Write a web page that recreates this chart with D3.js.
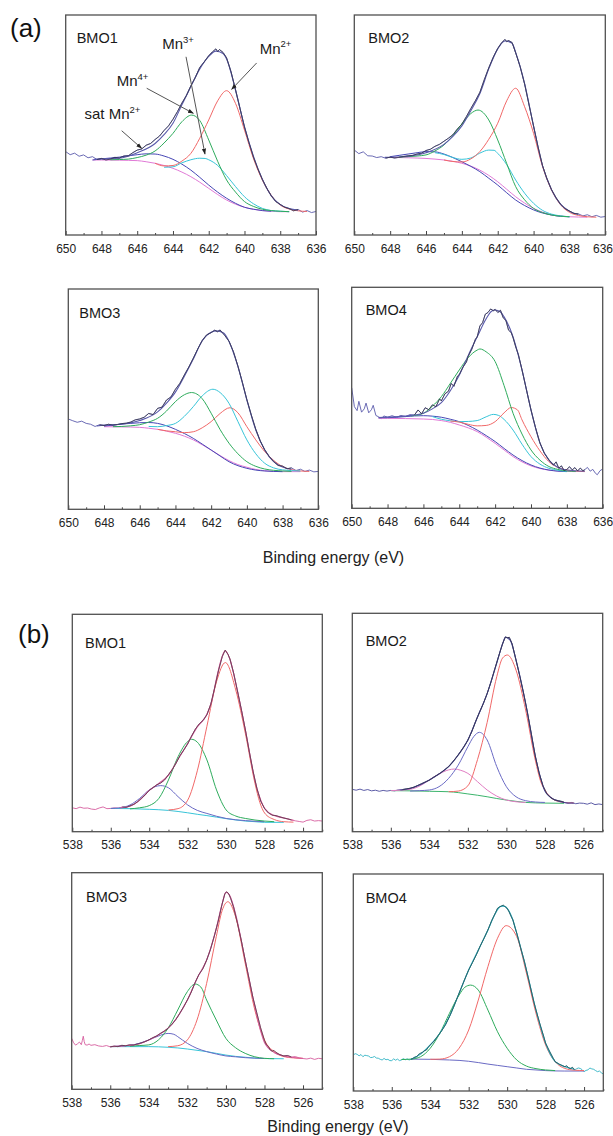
<!DOCTYPE html>
<html><head><meta charset="utf-8">
<script src="https://cdn.jsdelivr.net/npm/d3@7"></script>
<style>body{margin:0;background:#fff} svg{display:block} text{font-family:"Liberation Sans",Arial,sans-serif}</style>
</head><body><svg id="c" width="613" height="1136"></svg>
<script>
// ---------- tick labels ----------
const ticksA = [650,648,646,644,642,640,638,636];
const minorA = [649,647,645,643,641,639,637];
const ticksB = [538,536,534,532,530,528,526];
const minorB = [537,535,533,531,529,527,525];
const panelNames = ["BMO1","BMO2","BMO3","BMO4"];

// ---------- (a) Mn 2p, BMO1 ----------
const a1Raw = [[650,37.9],[649.75,36.5],[649.5,37.2],[649.25,35.8],[649,36.4],[648.75,35.1],[648.5,35.6],[648.25,34.3],[648,34.8],[647.75,34.1],[647.5,34.5],[647.25,35.3],[647,35.0],[646.75,35.9],[646.5,36.0],[646.25,37.4],[646,38.6],[645.75,39.1],[645.5,40.8],[645.25,41.6],[645,43.4],[644.75,45.0],[644.5,47.5],[644.25,49.6],[644,52.6],[643.75,56.1],[643.5,60.0],[643.25,63.4],[643,67.8],[642.75,71.6],[642.5,76.2],[642.25,78.7],[642,81.5],[641.8,83.2],[641.6,84.6],[641.5,83.4],[641.4,84.3],[641.2,83.0],[641,80.5],[640.75,74.2],[640.5,66.0],[640.25,57.5],[640,49.0],[639.75,42.0],[639.5,35.4],[639.25,30.0],[639,25.2],[638.75,21.2],[638.5,17.8],[638.25,15.2],[638,13.9],[637.75,12.6],[637.5,12.0],[637.25,11.0],[637,11.6],[636.75,10.4],[636.5,11.1],[636.25,10.2],[636,10.7]];
const a1Env = [[648.4,34.4],[648,34.6],[647,34.9],[646,37.4],[645,41.6],[644.5,45.6],[644,50.8],[643.5,59.2],[643,67.5],[642.5,75.5],[642,81.2],[641.6,83.6],[641.2,82.5],[641,80],[640.5,65.8],[640,49.2],[639.5,35.8],[639,25.3],[638.5,17.8],[638,13.8],[637.5,12.0],[637,11.3]];
const a1Mn2 = [[645,32.6],[644.5,31.4],[644,31.6],[643.5,33.6],[643,37.1],[642.5,44],[642,52.3],[641.5,61],[641,65.6],[640.5,59.8],[640,47.7],[639.5,34.8],[639,25],[638.5,18],[638,13.6],[637.5,11.8],[637,11],[636.5,10.7]];
const a1Mn4 = [[647.5,34.2],[647,34.3],[646.5,34.5],[646,35.2],[645.5,36.3],[645,38.2],[644.5,41.8],[644,46.2],[643.5,51.5],[642.95,54.5],[642.5,52],[642,43.2],[641.5,33.5],[641,25],[640.5,19.5],[640,15.2],[639.5,13.0],[639,11.7],[638,10.8],[637.5,10.6]];
const a1Mn3 = [[644.5,30.8],[644,31.0],[643.5,32.8],[643,34.2],[642.5,34.9],[642.2,34.8],[642,34.2],[641.5,31.6],[641,27],[640.5,22],[640,17.4],[639.5,14.2],[639,12.1],[638.5,11.1],[638,10.8],[637.5,10.6]];
const a1Sat = [[648.5,34.1],[648,34.6],[647.5,35.0],[647,35.4],[646.5,36.0],[646,36.5],[645.5,36.9],[645,36.8],[644.5,35.9],[644,34.4],[643.5,32.2],[643,29.5],[642.5,26.2],[642,22.7],[641.5,19.5],[641,16.7],[640.5,14.4],[640,12.6],[639.5,11.7],[639,11.1],[638.5,10.8]];
const a1Bg = [[648.5,34.1],[648,34.1],[647,34.0],[646,33.8],[645.5,33.3],[645,32.6],[644.5,31.6],[644,30.3],[643.5,28.6],[643,26.5],[642.5,24.0],[642,21.2],[641.5,18.4],[641,15.9],[640.5,14.0],[640,12.6],[639.5,11.7],[639,11.1],[638.5,10.8],[638,10.6],[637.5,10.6]];

// ---------- (a) BMO2 ----------
const a2Raw = [[650,38.6],[649.75,37.0],[649.5,37.8],[649.25,36.0],[649,35.9],[648.75,35.2],[648.5,35.6],[648.25,34.9],[648,35.4],[647.75,35.0],[647.5,35.3],[647.25,35.7],[647,36.0],[646.75,36.2],[646.5,36.8],[646.25,37.2],[646,38.4],[645.75,39.0],[645.5,40.3],[645.25,41.2],[645,42.6],[644.75,44.0],[644.5,45.6],[644.25,48.2],[644,50.4],[643.75,53.8],[643.5,57.5],[643.25,61.0],[643,64.8],[642.75,70.6],[642.5,76.0],[642.25,80.8],[642,84.8],[641.8,87.2],[641.6,88.9],[641.5,87.9],[641.4,88.4],[641.2,87.5],[641,82.8],[640.75,76.5],[640.5,68.6],[640.25,59.0],[640,49.5],[639.75,40.0],[639.5,31.5],[639.25,25.5],[639,20.6],[638.75,17.0],[638.5,14.0],[638.25,12.0],[638,10.9],[637.75,9.8],[637.5,9.6],[637.25,8.7],[637,9.2],[636.75,8.3],[636.5,8.9],[636.25,8.1],[636,8.4]];
const a2Env = [[648.3,35.3],[648,35.3],[647,35.8],[646,37.4],[645,41.2],[644.5,44.8],[644,49.6],[643.5,56.5],[643,64.2],[642.5,75.5],[642,84.6],[641.6,88.2],[641.2,87.2],[641,83],[640.5,68.8],[640,49.4],[639.5,31.4],[639,20.6],[638.5,14],[638,10.8],[637.5,9.3]];
const a2Mn2 = [[645,34.1],[644.5,33.4],[644,33.2],[643.5,34.6],[643,37.9],[642.5,43.5],[642,50.8],[641.5,61],[641,66.7],[640.5,58.3],[640,46.2],[639.5,31.1],[639,20.5],[638.5,13.8],[638,10.3],[637.5,8.9],[637,8.3],[636.5,8.1]];
const a2Mn4 = [[647.5,35.4],[647,35.6],[646.5,35.9],[646,36.4],[645.5,38.2],[645,40.9],[644.5,45.2],[644,50.5],[643.5,55.2],[643.1,56.8],[642.5,52.3],[642,43.2],[641.5,32.5],[641,22],[640.5,16],[640,12.1],[639.5,10.2],[639,9.1],[638,8.3]];
const a2Mn3 = [[645.5,37.4],[645,36.6],[644.5,35.2],[644,34.4],[643.5,35.0],[643,37.2],[642.5,38.6],[642.2,38.5],[642,37.1],[641.5,32],[641,25],[640.5,19],[640,14.4],[639.5,11.2],[639,9.5],[638.5,8.7],[638,8.3]];
const a2Sat = [[648,35.6],[647.5,36.2],[647,36.8],[646.5,37.4],[646,37.9],[645.5,37.8],[645,36.8],[644.5,35.2],[644,33.3],[643.5,31.2],[643,28.8],[642.5,25.8],[642,22.7],[641.5,19.2],[641,15.9],[640.5,13.4],[640,11.4],[639.5,10],[639,9.1],[638.5,8.5],[638,8.3]];
const a2Bg = [[648,35.3],[647,35.1],[646,34.8],[645.5,34.5],[645,34.1],[644.5,33.5],[644,32.6],[643.5,31.3],[643,29.5],[642.5,27.1],[642,24.2],[641.5,20.8],[641,17.4],[640.5,14.5],[640,12.1],[639.5,10.4],[639,9.1],[638.5,8.6],[638,8.3],[637,8.1]];

// ---------- (a) BMO3 ----------
const a3Raw = [[650,41.0],[649.75,40.2],[649.5,39.5],[649.25,40.0],[649,39.0],[648.75,38.6],[648.5,37.6],[648.25,38.4],[648,38.0],[647.75,38.6],[647.5,38.2],[647.25,38.5],[647,38.9],[646.75,39.1],[646.5,39.6],[646.25,40.6],[646,41.0],[645.75,41.8],[645.5,43.5],[645.25,43.0],[645,45.8],[644.75,46.4],[644.5,49.6],[644.25,51.0],[644,54.5],[643.75,57.2],[643.5,61.0],[643.25,64.6],[643,68.6],[642.75,72.8],[642.5,76.6],[642.25,79.2],[642,80.2],[641.8,81.3],[641.65,80.6],[641.5,81.4],[641.25,79.0],[641,76.3],[640.75,71.5],[640.5,65.0],[640.25,57.6],[640,49.8],[639.75,42.8],[639.5,36.3],[639.25,31.0],[639,27.0],[638.75,24.0],[638.5,21.7],[638.25,19.9],[638,19.6],[637.75,18.4],[637.5,18.8],[637.25,17.6],[637,18.2],[636.75,17.2],[636.5,17.8],[636.25,17.0],[636,17.2]];
const a3Env = [[648.4,37.8],[648,38.2],[647,38.6],[646,40.3],[645,44.2],[644.5,48.2],[644,53.2],[643.5,60.4],[643,68.2],[642.5,76.5],[642,80.4],[641.7,81],[641.3,80],[641,76.2],[640.5,64.8],[640,49.6],[639.5,36],[639,26.9],[638.5,21.6],[638,19.2],[637.5,18.2]];
const a3Mn4 = [[647.5,37.5],[647,37.6],[646.5,37.9],[646,38.4],[645.5,39.6],[645,41.3],[644.5,44.6],[644,48.9],[643.5,52.0],[643.1,53.0],[642.5,50.2],[642,43.6],[641.5,36.2],[641,30],[640.5,25.2],[640,21.6],[639.5,19.5],[639,18.3],[638,17.4],[637.5,17.2]];
const a3Mn3 = [[645.5,37.6],[645,37.5],[644.5,38.0],[644,39.0],[643.5,42.2],[643,46.6],[642.5,51.5],[641.9,54.5],[641.5,53],[641,48.1],[640.5,39.8],[640,31.5],[639.5,25.2],[639,20.9],[638.5,18.8],[638,17.9],[637,17.4]];
const a3Mn2 = [[645,36.3],[644.5,35.6],[644,35.2],[643.5,34.8],[643,35.2],[642.5,37.0],[642,39.8],[641.5,43.5],[640.95,46.1],[640.5,43.8],[640,37.5],[639.5,31.5],[639,26.2],[638.5,22.2],[638,19.4],[637.5,18.0],[637,17.4],[636.5,17.2]];
const a3Sat = [[648,37.8],[647.5,38.2],[647,38.7],[646.5,39.0],[646,39.3],[645.5,39.4],[645,39.0],[644.5,37.9],[644,36.3],[643.5,34.4],[643,32.2],[642.5,29.6],[642,26.9],[641.5,24.2],[641,21.6],[640.5,19.8],[640,18.6],[639.5,17.8],[639,17.4],[638,17.1]];
const a3Bg = [[648,37.5],[647,37.4],[646,37.2],[645.5,36.8],[645,36.3],[644.5,35.5],[644,34.5],[643.5,33.2],[643,31.5],[642.5,29.3],[642,26.9],[641.5,24.4],[641,22.1],[640.5,20.3],[640,19.1],[639.5,18.1],[639,17.5],[638.5,17.2],[638,17.1],[637,17.1]];

// ---------- (a) BMO4 ----------
const a4Raw = [[650,54.5],[649.85,46.0],[649.7,44.2],[649.6,48.4],[649.45,43.5],[649.3,45.0],[649.2,47.6],[649.05,43.2],[648.9,44.6],[648.8,46.6],[648.65,42.0],[648.5,41.4],[648.35,40.6],[648.2,41.8],[648,41.2],[647.75,41.9],[647.5,41.2],[647.25,42.0],[647,41.5],[646.75,42.4],[646.5,42.2],[646.3,44.5],[646.1,42.8],[645.9,45.5],[645.7,44.6],[645.5,46.8],[645.3,46.0],[645.1,49.5],[645,48.6],[644.8,51.8],[644.6,53.0],[644.45,56.5],[644.3,55.2],[644.1,59.8],[644,60.5],[643.8,63.8],[643.6,66.2],[643.5,68.8],[643.3,72.0],[643.1,76.5],[643,77.5],[642.85,82.5],[642.7,84.0],[642.55,87.8],[642.4,88.6],[642.25,90.2],[642.1,89.4],[642,90.0],[641.85,88.6],[641.7,89.6],[641.55,86.2],[641.4,85.0],[641.25,80.6],[641.1,79.5],[641,77.2],[640.85,73.0],[640.7,69.5],[640.5,62.6],[640.25,53.5],[640,44.5],[639.75,36.6],[639.5,29.6],[639.25,24.8],[639,21.9],[638.75,19.5],[638.6,21.0],[638.45,18.2],[638.3,19.2],[638.15,17.0],[638,17.6],[637.85,18.8],[637.7,17.4],[637.55,18.4],[637.4,16.9],[637.25,18.2],[637.1,17.0],[637,17.5],[636.85,18.5],[636.7,16.8],[636.55,17.6],[636.4,15.8],[636.3,15.2],[636.15,17.0],[636,17.8]];
const a4Env = [[648.5,41.0],[648,41.3],[647,41.7],[646.5,42.2],[646,43.0],[645.5,45.0],[645,47.8],[644.5,53.2],[644,60.2],[643.5,69.2],[643,77.6],[642.5,85.8],[642.2,89.2],[642,89.7],[641.7,88.8],[641.5,86.6],[641,77.6],[640.5,62.6],[640,44.5],[639.5,29.5],[639,21.8],[638.5,18.5],[638,17.3],[637,16.8]];
const a4Mn4 = [[646.7,41.8],[646.5,42.0],[646,43.0],[645.5,46.2],[645,50.5],[644.5,56.5],[644,62.6],[643.5,68.2],[643,71.6],[642.85,72.1],[642.5,70.8],[642,66.4],[641.5,55.5],[641,43],[640.5,33.6],[640,26.4],[639.5,21.8],[639,18.9],[638.5,17.6],[638,16.9],[637.5,16.7]];
const a4Mn2 = [[644.5,39.5],[644,39.0],[643.5,38.0],[643,37.3],[642.5,37.5],[642,39.2],[641.5,43.2],[641.1,45.6],[640.75,44.5],[640.5,40.0],[640,32.4],[639.5,26.0],[639,21.1],[638.5,18.5],[638,17.3],[637.5,16.8],[637,16.6]];
const a4Mn3 = [[645.5,41.5],[645,40.3],[644.5,39.6],[644,39.2],[643.5,39.3],[643,39.7],[642.5,41.4],[642.1,42.5],[641.8,42.0],[641.5,40.2],[641,35.4],[640.5,29.0],[640,23.4],[639.5,20.0],[639,18.1],[638.5,17.2],[638,16.7]];
const a4Sat = [[648.5,41.0],[648,41.0],[647,41.5],[646.5,41.8],[646,41.9],[645.5,41.7],[645,41.2],[644.5,40.3],[644,39.2],[643.5,37.5],[643,35.4],[642.5,32.9],[642,30.2],[641.5,27.1],[641,24.1],[640.5,21.6],[640,19.6],[639.5,18.2],[639,17.3],[638.5,16.8],[638,16.6]];
const a4Bg = [[648.5,40.7],[648,40.7],[647,40.6],[646,40.4],[645.5,40.2],[645,39.7],[644.5,38.9],[644,37.7],[643.5,36.4],[643,34.7],[642.5,32.2],[642,29.4],[641.5,26.4],[641,23.4],[640.5,21.0],[640,19.2],[639.5,18.0],[639,17.3],[638.5,16.9],[638,16.7],[637.5,16.6]];

// ---------- (b) O 1s, BMO1 ----------
const b1Raw = [[538,11.0],[537.8,10.6],[537.6,11.3],[537.4,10.8],[537.2,10.9],[537,10.4],[536.8,10.2],[536.6,10.9],[536.4,11.4],[536.2,10.6],[536,10.7],[535.8,11.0],[535.6,10.8],[535.4,11.4],[535.2,11.2],[535,11.9],[534.8,12.6],[534.6,13.8],[534.4,15.4],[534.2,17.0],[534,19.0],[533.8,20.3],[533.6,21.6],[533.4,22.4],[533.2,23.8],[533,26.2],[532.8,28.6],[532.6,31.6],[532.4,35.0],[532.2,37.6],[532,40.4],[531.8,44.0],[531.6,47.2],[531.4,49.6],[531.2,51.2],[531,53.8],[530.8,58.6],[530.6,66.0],[530.4,74.0],[530.2,80.6],[530.05,83.5],[529.9,81.5],[529.8,79.4],[529.6,72.6],[529.4,64.2],[529.2,55.8],[529,46.8],[528.8,37.0],[528.6,27.8],[528.4,19.8],[528.2,14.0],[528,10.6],[527.8,8.6],[527.6,7.6],[527.4,7.4],[527.2,6.8],[527,6.3],[526.8,5.9],[526.6,5.4],[526.4,5.0],[526.2,4.7],[526,4.4],[525.8,5.2],[525.6,5.5],[525.4,4.9],[525.2,5.1],[525,4.9]];
const b1Env = [[535.5,10.9],[535,11.7],[534.5,14.5],[534,19],[533.5,22.2],[533,26],[532.5,33.3],[532,40.6],[531.5,48.2],[531,54],[530.75,60],[530.5,70.5],[530.25,79.5],[530.05,83.2],[529.8,79.2],[529.5,68.3],[529,46.8],[528.5,23.5],[528.2,14.5],[528,10.8],[527.5,7.4],[527,6.3],[526.5,5.2]];
const b1Red = [[533,10.0],[532.5,10.6],[532,14.5],[531.5,28],[531,48.5],[530.5,69],[530.04,77.8],[529.5,65.2],[529,45.2],[528.5,22.2],[528.25,13.5],[528,8.6],[527.5,5.6],[527,4.6],[526.5,4.4]];
const b1Green = [[535,10.5],[534.5,11.0],[534,12.0],[533.5,15.3],[533,23.8],[532.5,34.5],[532,41.5],[531.8,42.5],[531.5,41.2],[531,33],[530.5,19.2],[530,10.0],[529.5,7.2],[529,6.1],[528,4.9],[527.5,4.6]];
const b1Purple = [[536,10.7],[535.5,11.0],[535,12.3],[534.5,15.3],[534,19.2],[533.7,20.7],[533.4,21.2],[533,20.2],[532.5,16.1],[532,12.3],[531.5,9.8],[531,8.4],[530.5,7.1],[530,6.1],[529,5.1],[528,4.6]];
const b1Bg = [[536,10.7],[535,10.6],[534,10.3],[533,9.8],[532.5,9.3],[532,8.7],[531.5,8.0],[531,7.4],[530.5,6.7],[530,6.0],[529.5,5.4],[529,4.9],[528.5,4.6],[528,4.3],[527,4.3]];

// ---------- (b) BMO2 ----------
const b2Raw = [[538,19.4],[537.8,19.0],[537.6,19.5],[537.4,18.9],[537.2,19.3],[537,18.7],[536.8,19.0],[536.6,18.5],[536.4,18.9],[536.2,18.6],[536,18.9],[535.8,18.7],[535.6,19.2],[535.4,19.3],[535.2,19.6],[535,19.9],[534.8,20.4],[534.6,21.2],[534.4,22.0],[534.2,22.8],[534,23.6],[533.8,24.8],[533.6,25.9],[533.4,27.0],[533.2,28.4],[533,29.8],[532.8,31.8],[532.6,34.0],[532.4,36.4],[532.2,39.0],[532,41.9],[531.8,45.8],[531.6,50.4],[531.4,54.6],[531.2,58.6],[531,63.2],[530.8,68.6],[530.6,74.6],[530.4,80.4],[530.2,86.0],[530.05,89.2],[529.95,88.8],[529.85,89.0],[529.7,86.0],[529.5,78.6],[529.3,71.0],[529.1,63.0],[528.9,54.2],[528.7,44.6],[528.5,34.6],[528.3,26.8],[528.1,21.0],[527.9,17.4],[527.7,15.6],[527.5,14.6],[527.3,14.2],[527.1,13.8],[527,13.4],[526.8,13.0],[526.6,13.4],[526.4,12.8],[526.2,13.1],[526,13.0],[525.8,12.6],[525.6,13.2],[525.4,12.4],[525.2,12.7],[525,12.4]];
const b2Env = [[535.5,19.1],[535,19.8],[534.5,21.4],[534,23.7],[533.5,26.4],[533,29.8],[532.5,35.1],[532,42],[531.5,52.5],[531,63.2],[530.5,77.2],[530.2,86],[530.05,89],[529.8,87.6],[529.5,78.6],[529,58.8],[528.5,34.6],[528.2,23.8],[528,18.6],[527.5,14.6],[527,13.4],[526.5,13.0]];
const b2Red = [[533,18.3],[532.5,18.6],[532,21.0],[531.5,33],[531,50],[530.5,71],[530.2,79.5],[529.95,80.9],[529.5,74],[529,55.7],[528.5,32.8],[528.2,22.5],[528,19.1],[527.5,14.5],[527,13.4],[526.5,13.1]];
const b2Purple = [[535,18.6],[534.5,18.8],[534,19.1],[533.5,20.6],[533,24.4],[532.5,30.5],[532,38.9],[531.7,43.5],[531.4,45.5],[531,42],[530.5,29.8],[530,20.6],[529.5,16],[529,14.2],[528.5,13.6],[528,13.4]];
const b2Pink = [[536,18.8],[535.5,19.0],[535,19.4],[534.5,20.9],[534,23.7],[533.5,26.4],[533,28.3],[532.7,28.7],[532.4,28.2],[532,26.7],[531.5,22.9],[531,19.1],[530.5,16.3],[530,14.5],[529.5,13.7],[529,13.4]];
const b2Bg = [[536,18.8],[535,18.7],[534,18.5],[533,18.3],[532.5,17.9],[532,17.3],[531.5,16.7],[531,16.0],[530.5,15.2],[530,14.5],[529.5,13.9],[529,13.4],[528.5,13.2],[528,13.1],[527,13.0]];

// ---------- (b) BMO3 ----------
const b3Raw = [[538,23.5],[537.9,21.5],[537.8,20.4],[537.7,21.0],[537.6,21.8],[537.5,20.6],[537.45,22.5],[537.4,24.5],[537.35,22.0],[537.3,20.6],[537.2,20.4],[537.1,20.9],[537,20.3],[536.8,20.6],[536.6,20.0],[536.4,19.8],[536.2,20.2],[536,19.6],[535.8,19.9],[535.6,19.7],[535.4,20.3],[535.2,20.1],[535,20.5],[534.8,20.4],[534.6,20.9],[534.4,21.4],[534.2,22.0],[534,22.8],[533.8,23.8],[533.6,24.6],[533.4,25.8],[533.2,26.8],[533,28.2],[532.8,30.0],[532.6,32.2],[532.4,35.0],[532.2,38.0],[532,41.2],[531.8,44.8],[531.6,49.2],[531.4,53.0],[531.2,55.6],[531,59.6],[530.8,64.6],[530.6,70.8],[530.4,77.6],[530.2,85.4],[530.05,90.4],[529.95,91.2],[529.85,90.2],[529.75,88.0],[529.6,84.0],[529.4,76.6],[529.2,68.6],[529,59.6],[528.8,51.0],[528.6,42.4],[528.4,35.4],[528.2,28.4],[528,22.6],[527.9,20.6],[527.8,19.8],[527.7,18.2],[527.6,17.6],[527.5,17.9],[527.4,17.0],[527.2,16.0],[527,15.4],[526.8,15.6],[526.6,14.9],[526.4,15.1],[526.2,14.5],[526,14.2],[525.8,14.0],[525.6,14.4],[525.4,13.8],[525.2,14.3],[525,14.1]];
const b3Env = [[536,19.7],[535,20.3],[534.5,20.9],[534,22.8],[533.5,25.1],[533,28.2],[532.5,33.5],[532,41.2],[531.5,51.2],[531,59.7],[530.5,74.3],[530.2,85.5],[530,91],[529.8,89.5],[529.5,81],[529,59.7],[528.5,38.2],[528.2,27],[528,21.6],[527.5,17.0],[527,15.4],[526.5,14.7],[526,14.2]];
const b3Red = [[533,19.7],[532.5,20.1],[532,22.8],[531.5,32],[531,48.9],[530.5,70.5],[530.2,82.4],[529.9,86.6],[529.5,79.7],[529,58.2],[528.5,36.6],[528,22.8],[527.5,17.4],[527,15.1],[526.5,14.5],[526,14.3]];
const b3Green = [[535,19.9],[534.5,20.2],[534,20.5],[533.5,22.8],[533,28.2],[532.5,36.6],[532,45.1],[531.6,48.6],[531.3,47.2],[531,41.2],[530.5,32],[530,23.5],[529.5,19.2],[529,16.6],[528.5,15.0],[528,14.3],[527.5,14.1]];
const b3Purple = [[536,19.7],[535.5,20.0],[535,20.3],[534.5,21.2],[534,22.8],[533.5,24.6],[533,25.8],[532.7,25.4],[532.5,24.3],[532,21.2],[531.5,18.9],[531,17.4],[530.5,16.3],[530,15.4],[529.5,15.0],[529,14.6],[528.5,14.4],[528,14.2]];
const b3Bg = [[536,19.7],[535,19.7],[534,19.7],[533,19.4],[532.5,19.1],[532,18.6],[531.5,18.0],[531,17.4],[530.5,16.6],[530,15.8],[529.5,15.2],[529,14.8],[528.5,14.4],[528,14.2],[527,14.1]];

// ---------- (b) BMO4 ----------
const b4Raw = [[538,16.6],[537.9,17.2],[537.8,16.9],[537.7,16.2],[537.6,16.8],[537.5,15.8],[537.4,16.5],[537.3,16.3],[537.2,16.1],[537.1,15.4],[537,15.5],[536.9,15.9],[536.8,15.2],[536.7,15.1],[536.6,14.6],[536.5,14.3],[536.4,15.0],[536.3,14.4],[536.2,14.6],[536.1,14.0],[536,14.0],[535.9,14.8],[535.8,14.2],[535.7,14.7],[535.6,14.0],[535.5,14.3],[535.4,14.9],[535.3,14.4],[535.2,14.8],[535.1,14.3],[535,14.6],[534.9,15.0],[534.8,15.6],[534.7,15.8],[534.6,16.9],[534.5,17.4],[534.4,17.8],[534.3,18.6],[534.2,18.9],[534.1,20.2],[534,21.2],[533.8,23.0],[533.6,25.4],[533.4,27.8],[533.2,30.6],[533,34.3],[532.8,38.4],[532.6,42.8],[532.4,47.2],[532.2,51.6],[532,55.8],[531.8,59.2],[531.6,62.8],[531.4,66.8],[531.2,70.4],[531,74.2],[530.8,78.6],[530.6,82.2],[530.5,84.2],[530.4,84.8],[530.3,85.2],[530.2,85.7],[530.1,84.8],[530,84.2],[529.9,82.6],[529.8,80.6],[529.7,78.8],[529.6,75.6],[529.5,72.7],[529.3,66.0],[529.1,59.6],[529,55.8],[528.8,48.2],[528.6,40.6],[528.5,37.3],[528.3,31.0],[528.1,25.2],[528,22.0],[527.8,18.4],[527.6,15.0],[527.5,13.5],[527.3,12.4],[527.1,11.6],[527,11.2],[526.9,11.6],[526.8,10.6],[526.7,10.4],[526.6,10.9],[526.5,9.7],[526.4,10.2],[526.3,10.6],[526.2,10.4],[526.1,9.8],[526,8.9],[525.9,9.5],[525.8,9.7],[525.7,10.6],[525.6,10.2],[525.5,10.0],[525.4,9.4],[525.3,8.9],[525.2,9.2],[525.1,8.4],[525,7.8]];
const b4Env = [[535,14.6],[534.5,17.0],[534,21.2],[533.5,26.6],[533,34.3],[532.5,45],[532,55.8],[531.5,65],[531,74.2],[530.7,80.3],[530.5,83.6],[530.3,85.2],[530.1,85],[530,84.2],[529.7,78.8],[529.5,72.7],[529,55.8],[528.5,37.3],[528,22],[527.5,13.5],[527,11.2],[526.5,10]];
const b4Red = [[534,14.6],[533.5,14.7],[533,15.8],[532.5,19.7],[532,28.1],[531.5,41.9],[531,57.3],[530.5,70.4],[530.05,76.2],[529.5,71.1],[529,54.4],[528.5,35.8],[528,21.2],[527.5,13.5],[527,10.4],[526.5,9.6],[526,9.4]];
const b4Green = [[535.5,14.5],[535,14.7],[534.5,15.8],[534,19.7],[533.5,26.6],[533,35.8],[532.5,44.2],[532.2,47.8],[531.9,48.8],[531.5,46.5],[531,37.3],[530.5,27.3],[530,19.7],[529.5,14.3],[529,11.5],[528.5,10.3],[528,9.7],[527.5,9.4]];
const b4Bg = [[535,14.7],[534,14.6],[533,14.3],[532.5,14.1],[532,13.7],[531.5,13.1],[531,12.4],[530.5,11.8],[530,11.2],[529.5,10.6],[529,10.0],[528.5,9.7],[528,9.4],[527,9.2],[526,9.2]];

// ---------- annotations of panel (a) BMO1
const annoText = ["Mn","Mn","Mn","sat Mn"];
const annoSup = ["3+","2+","4+","2+"];
const annoPos = [[644.6,84.5],[639.15,82.3],[647.15,67.7],[648.95,52.7]];
const annoFrom = [[643.27,81.0],[639.32,78.2],[645.47,66.7],[646.87,47.4]];
const annoTo = [[642.21,36.8],[640.72,66.2],[642.86,55.3],[645.75,39.4]];

// ---------- drawing ----------
const C = {raw:"#2a2a2a", envA:"#5a5aac", red:"#f06868", green:"#2eab5c", cyan:"#38c4d8", blue:"#4646b4",
           mag:"#e07ad6", pink:"#d65e9e", purple:"#6a6ac4", pinkC:"#e07cc2", greenBg:"#3cb46c", teal:"#2fb3c4", envB2:"#4a4a9c"};

const panels = [
 {box:[65.7,15,316,235], dom:[650,636], t:ticksA, m:minorA, name:0, lab:[76.7,43.3], raw:a1Raw, fit:[648.4,637], env:a1Env, ec:C.envA,
  comps:[[a1Bg,C.mag],[a1Sat,C.blue],[a1Mn3,C.cyan],[a1Mn4,C.green],[a1Mn2,C.red]]},
 {box:[354.3,15,605.3,235], dom:[650,636], t:ticksA, m:minorA, name:1, lab:[368.3,42.7], raw:a2Raw, fit:[648.3,637.5], env:a2Env, ec:C.envA,
  comps:[[a2Bg,C.mag],[a2Sat,C.blue],[a2Mn3,C.cyan],[a2Mn4,C.green],[a2Mn2,C.red]]},
 {box:[68.3,289,318.3,509.3], dom:[650,636], t:ticksA, m:minorA, name:2, lab:[79.3,318.3], raw:a3Raw, fit:[648.4,637.5], env:a3Env, ec:C.envA,
  comps:[[a3Bg,C.mag],[a3Sat,C.blue],[a3Mn2,C.red],[a3Mn3,C.cyan],[a3Mn4,C.green]]},
 {box:[351.7,287.3,602.7,508.3], dom:[650,636], t:ticksA, m:minorA, name:3, lab:[365.7,315], raw:a4Raw, fit:[646.7,637], env:a4Env, ec:C.envA,
  comps:[[a4Bg,C.mag],[a4Sat,C.blue],[a4Mn3,C.cyan],[a4Mn2,C.red],[a4Mn4,C.green]]},
 {box:[72.3,614.3,322.3,831.7], dom:[538,525], t:ticksB, m:minorB, name:0, lab:[85,648.3], raw:b1Raw, fit:[535.5,526.5], env:b1Env, ec:C.pink,
  comps:[[b1Bg,C.cyan],[b1Purple,C.purple],[b1Green,C.green],[b1Red,C.red]]},
 {box:[352.3,613.3,602.7,831.7], dom:[538,525], t:ticksB, m:minorB, name:1, lab:[365.7,646], raw:b2Raw, fit:[535.5,527], env:b2Env, ec:C.envB2,
  comps:[[b2Bg,C.greenBg],[b2Pink,C.pinkC],[b2Purple,C.purple],[b2Red,C.red]]},
 {box:[71.7,872.7,322.3,1089.3], dom:[538,525], t:ticksB, m:minorB, name:2, lab:[86,902.3], raw:b3Raw, fit:[536,526.5], env:b3Env, ec:C.pink,
  comps:[[b3Bg,C.cyan],[b3Purple,C.purple],[b3Green,C.green],[b3Red,C.red]]},
 {box:[353.3,874,603.3,1091], dom:[538,525], t:ticksB, m:minorB, name:3, lab:[365.7,903.3], raw:b4Raw, fit:[535,526.5], env:b4Env, ec:C.teal,
  comps:[[b4Bg,C.purple],[b4Green,C.green],[b4Red,C.red]]}
];

const svg = d3.select("#c");
const defs = svg.append("defs");
defs.append("marker").attr("id","ah").attr("viewBox","0 0 10 10").attr("refX",9).attr("refY",5)
  .attr("markerWidth",6).attr("markerHeight",6).attr("orient","auto")
  .append("path").attr("d","M0,1.5L10,5L0,8.5Z").attr("fill","#222");

panels.forEach((p,i)=>{
  const [x0,y0,x1,y1] = p.box;
  const x = d3.scaleLinear().domain(p.dom).range([x0,x1]);
  const y = d3.scaleLinear().domain([0,100]).range([y1,y0]);
  defs.append("clipPath").attr("id","cl"+i).append("rect")
    .attr("x",x0).attr("y",y0).attr("width",x1-x0).attr("height",y1-y0);
  const g = svg.append("g");
  const plot = g.append("g").attr("clip-path",`url(#cl${i})`);
  const smooth = d3.line().x(d=>x(d[0])).y(d=>y(d[1])).curve(d3.curveMonotoneX);
  const jag = d3.line().x(d=>x(d[0])).y(d=>y(d[1]));
  plot.append("path").attr("d",jag(p.raw)).attr("fill","none").attr("stroke",p.ec).attr("stroke-width",0.9);
  p.comps.forEach(([data,col])=>{
    plot.append("path").attr("d",smooth(data)).attr("fill","none").attr("stroke",col).attr("stroke-width",1);
  });
  plot.append("path").attr("d",smooth(p.env)).attr("fill","none").attr("stroke",p.ec).attr("stroke-width",1.1);
  plot.append("path").attr("d",jag(p.raw.filter(d=>d[0]<=p.fit[0] && d[0]>=p.fit[1])))
    .attr("fill","none").attr("stroke",C.raw).attr("stroke-width",0.75).attr("stroke-opacity",0.8);

  const ax = g.append("g").attr("transform",`translate(0,${y1})`)
    .call(d3.axisBottom(x).tickValues(p.t).tickSizeInner(-4).tickSizeOuter(0).tickPadding(9).tickFormat(d3.format("d")));
  ax.select(".domain").remove();
  ax.selectAll("line").attr("stroke","#444");
  ax.selectAll("text").attr("font-size",12).attr("fill","#222").attr("font-family","'Liberation Sans',Arial,sans-serif")
    .attr("dx", d => (x(d) + 10 > 613 ? 613 - 10.5 - x(d) : 0));
  const mx = g.append("g").attr("transform",`translate(0,${y1})`)
    .call(d3.axisBottom(x).tickValues(p.m).tickSizeInner(-2).tickSizeOuter(0).tickFormat(""));
  mx.select(".domain").remove();
  mx.selectAll("line").attr("stroke","#444");

  g.append("rect").attr("x",x0).attr("y",y0).attr("width",x1-x0).attr("height",y1-y0)
    .attr("fill","none").attr("stroke","#505050").attr("stroke-width",1.3);
  g.append("text").attr("x",p.lab[0]).attr("y",p.lab[1]).attr("font-size",14.5).attr("fill","#1a1a1a").text(panelNames[p.name]);

  if(i===0){
    annoText.forEach((t,k)=>{
      g.append("line").attr("x1",x(annoFrom[k][0])).attr("y1",y(annoFrom[k][1]))
        .attr("x2",x(annoTo[k][0])).attr("y2",y(annoTo[k][1]))
        .attr("stroke","#555").attr("stroke-width",1).attr("marker-end","url(#ah)");
      const tx = g.append("text").attr("x",x(annoPos[k][0])).attr("y",y(annoPos[k][1])).attr("font-size",15).attr("fill","#1a1a1a");
      tx.append("tspan").text(t);
      tx.append("tspan").attr("font-size",9.5).attr("dy",-6.5).text(annoSup[k]);
    });
  }
});

svg.append("text").attr("x",10).attr("y",36.5).attr("font-size",26).attr("fill","#111").text("(a)");
svg.append("text").attr("x",18).attr("y",643).attr("font-size",26).attr("fill","#111").text("(b)");
svg.append("text").attr("x",333.5).attr("y",563).attr("text-anchor","middle").attr("font-size",16).attr("fill","#222").text("Binding energy (eV)");
svg.append("text").attr("x",338).attr("y",1132).attr("text-anchor","middle").attr("font-size",16).attr("fill","#222").text("Binding energy (eV)");
</script>
</body></html>
